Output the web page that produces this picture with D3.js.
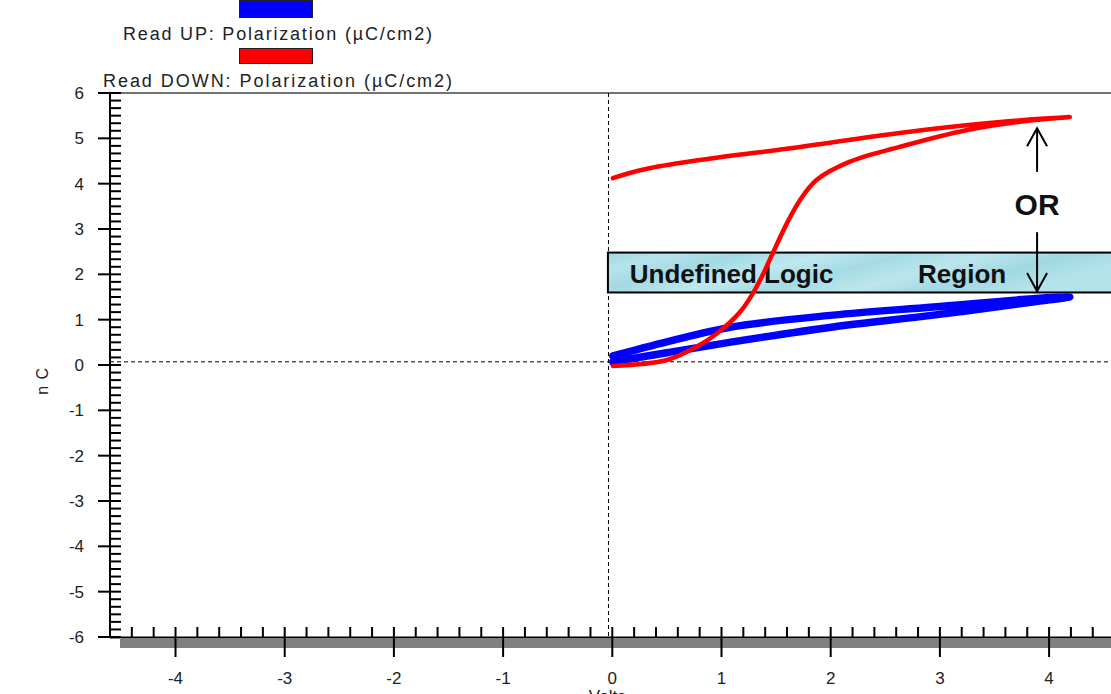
<!DOCTYPE html>
<html><head><meta charset="utf-8">
<script src="https://cdn.jsdelivr.net/npm/d3@7"></script>
<style>body{margin:0;background:#fff;} svg{display:block;font-family:Arial,"Liberation Sans",sans-serif;}</style>
</head><body><svg id="c" width="1111" height="694"></svg>
<script>
// ---------- data ----------
const seriesNames = ["Read UP: Polarization (\u00b5C/cm2)", "Read DOWN: Polarization (\u00b5C/cm2)"];
const seriesColors = ["#0000ff", "#ff0000"];

const upVolts = [0.005, 0.5, 1.1, 2.02, 2.94, 3.85, 4.19, 3.85, 2.94, 2.02, 1.1, 0.5, 0.005];
const upPol   = [0.07, 0.27, 0.51, 0.84, 1.10, 1.39, 1.50, 1.46, 1.28, 1.10, 0.84, 0.51, 0.20];

const downVolts = [0.005, 0.5, 0.8, 0.96, 1.17, 1.29, 1.38, 1.47, 1.6, 1.72, 1.87, 2.17, 2.63, 3.24, 3.85, 4.19, 3.55, 2.63, 1.72, 0.8, 0.34, 0.15, 0.005];
const downPol   = [-0.02, 0.11, 0.44, 0.70, 1.17, 1.59, 2.00, 2.47, 3.13, 3.64, 4.08, 4.48, 4.81, 5.18, 5.40, 5.47, 5.36, 5.12, 4.81, 4.52, 4.34, 4.23, 4.12];

const xTickValues = [-4, -3, -2, -1, 0, 1, 2, 3, 4];
const yTickValues = [-6, -5, -4, -3, -2, -1, 0, 1, 2, 3, 4, 5, 6];
const xDomain = [-4.6, 4.6];
const yDomain = [-6, 6];
const refLineVolt = -0.035;
const refLinePol = 0.07;
const regionBand = [1.6, 2.48];
const regionVolts = [-0.04, 4.6];
const regionLabels = ["Undefined Logic", "Region"];
const regionLabelVolts = [0.16, 2.8];
const orVolt = 3.89;
const orUpArrow = [4.26, 5.22];
const orDownArrow = [2.93, 1.63];
const orLabelPol = 3.55;
const xTitle = "Volts";
const yTitle = "n C";

// ---------- layout ----------
const svg = d3.select("#c");
const x = d3.scaleLinear().domain(xDomain).range([110, 1114.6]);
const y = d3.scaleLinear().domain(yDomain).range([637, 93]);

svg.append("rect").attr("width", 1111).attr("height", 694).attr("fill", "#fff");

const defs = svg.append("defs");
const grad = defs.append("linearGradient").attr("id", "band").attr("x1", "0").attr("x2", "1").attr("y1", "0").attr("y2", "0.3");
[["0", "#9fd6e1"], ["0.12", "#b7e4ec"], ["0.25", "#a2d9e3"], ["0.4", "#bfe8ef"], ["0.55", "#a5dbe5"], ["0.7", "#bce6ed"], ["0.85", "#a0d8e2"], ["1", "#b3e2ea"]]
  .forEach(([o, c]) => grad.append("stop").attr("offset", o).attr("stop-color", c));

// frame top line
svg.append("line").attr("x1", x(xDomain[0])).attr("x2", 1111).attr("y1", y(6)).attr("y2", y(6))
  .attr("stroke", "#444").attr("stroke-width", 1.5);

// gray shadow band under x axis
svg.append("rect").attr("x", x(xDomain[0]) + 10).attr("y", y(-6) + 2).attr("width", 1111 - x(xDomain[0]) - 10).attr("height", 9)
  .attr("fill", "#808080");

// dashed reference lines
svg.append("line").attr("x1", x(refLineVolt)).attr("x2", x(refLineVolt)).attr("y1", y(6)).attr("y2", y(-6))
  .attr("stroke", "#000").attr("stroke-width", 1).attr("stroke-dasharray", "4,3");
svg.append("line").attr("x1", x(xDomain[0])).attr("x2", 1111).attr("y1", y(refLinePol)).attr("y2", y(refLinePol))
  .attr("stroke", "#000").attr("stroke-width", 1).attr("stroke-dasharray", "4,3");

// y axis
svg.append("line").attr("x1", x(xDomain[0])).attr("x2", x(xDomain[0])).attr("y1", y(6)).attr("y2", y(-6))
  .attr("stroke", "#000").attr("stroke-width", 2);
const yMinor = d3.range(-36, 37).map(i => i / 6).filter(v => Math.abs(v - Math.round(v)) > 1e-6);
svg.append("g").selectAll("line").data(yMinor).join("line")
  .attr("x1", x(xDomain[0])).attr("x2", x(xDomain[0]) + 11).attr("y1", d => y(d)).attr("y2", d => y(d))
  .attr("stroke", "#000").attr("stroke-width", 2);
svg.append("g").selectAll("line").data(yTickValues).join("line")
  .attr("x1", x(xDomain[0]) - 12).attr("x2", x(xDomain[0]) + 11).attr("y1", d => y(d)).attr("y2", d => y(d))
  .attr("stroke", "#000").attr("stroke-width", 2);
svg.append("g").selectAll("text").data(yTickValues).join("text")
  .attr("x", 84).attr("y", d => y(d)).attr("dy", "0.36em").attr("text-anchor", "end")
  .attr("font-size", 17).attr("fill", "#222").text(d => d);

// x axis
svg.append("line").attr("x1", x(xDomain[0])).attr("x2", 1111).attr("y1", y(-6) + 0.5).attr("y2", y(-6) + 0.5)
  .attr("stroke", "#000").attr("stroke-width", 2);
const xMinor = d3.range(-23, 24).map(i => i / 5).filter(v => Math.abs(v - Math.round(v)) > 1e-6);
svg.append("g").selectAll("line").data(xMinor).join("line")
  .attr("x1", d => x(d)).attr("x2", d => x(d)).attr("y1", y(-6) - 10).attr("y2", y(-6) + 1)
  .attr("stroke", "#000").attr("stroke-width", 2);
svg.append("g").selectAll("line").data(xTickValues).join("line")
  .attr("x1", d => x(d)).attr("x2", d => x(d)).attr("y1", y(-6) - 10).attr("y2", y(-6) + 20)
  .attr("stroke", "#000").attr("stroke-width", 2);
svg.append("g").selectAll("text").data(xTickValues).join("text")
  .attr("x", d => x(d)).attr("y", 684).attr("text-anchor", "middle")
  .attr("font-size", 17).attr("fill", "#222").text(d => d);

// axis titles
svg.append("text").attr("x", x(0) - 5).attr("y", 702).attr("text-anchor", "middle")
  .attr("font-size", 17).attr("fill", "#222").text(xTitle);
svg.append("text").attr("transform", `translate(48,${y(-0.35)}) rotate(-90)`).attr("text-anchor", "middle")
  .attr("font-size", 16).attr("fill", "#222").attr("letter-spacing", 1).text(yTitle);

// undefined logic region
svg.append("rect").attr("x", x(regionVolts[0])).attr("y", y(regionBand[1]))
  .attr("width", x(regionVolts[1]) - x(regionVolts[0])).attr("height", y(regionBand[0]) - y(regionBand[1]))
  .attr("fill", "url(#band)").attr("stroke", "#000").attr("stroke-width", 2);
svg.append("g").selectAll("text").data(regionLabels).join("text")
  .attr("x", (d, i) => x(regionLabelVolts[i])).attr("y", y(regionBand[0]) - 9)
  .attr("font-size", 26).attr("font-weight", "bold").attr("fill", "#111").text(d => d);

// curves
const line = d3.line().x(d => x(d[0])).y(d => y(d[1])).curve(d3.curveCatmullRom.alpha(0.5));
const upPts = upVolts.map((v, i) => [v, upPol[i]]);
const downPts = downVolts.map((v, i) => [v, downPol[i]]);
svg.append("path").attr("d", line(upPts)).attr("fill", "none").attr("stroke", seriesColors[0])
  .attr("stroke-width", 7.5).attr("stroke-linejoin", "round").attr("stroke-linecap", "round");
svg.append("path").attr("d", line(downPts)).attr("fill", "none").attr("stroke", seriesColors[1])
  .attr("stroke-width", 4.5).attr("stroke-linejoin", "round").attr("stroke-linecap", "round");

// OR arrows
function arrow(p0, p1) {
  const g = svg.append("g").attr("stroke", "#000").attr("stroke-width", 2).attr("fill", "none");
  g.append("line").attr("x1", x(orVolt)).attr("x2", x(orVolt)).attr("y1", y(p0)).attr("y2", y(p1));
  const dir = y(p1) > y(p0) ? -1 : 1;
  g.append("path").attr("d", `M${x(orVolt) - 10},${y(p1) + dir * 18} L${x(orVolt)},${y(p1)} L${x(orVolt) + 10},${y(p1) + dir * 18}`);
}
arrow(orUpArrow[0], orUpArrow[1]);
arrow(orDownArrow[0], orDownArrow[1]);
svg.append("text").attr("x", x(orVolt)).attr("y", y(orLabelPol)).attr("dy", "0.36em").attr("text-anchor", "middle")
  .attr("font-size", 30).attr("font-weight", "bold").attr("fill", "#111").text("OR");

// legend
const legendRects = [[0, 18], [48, 64]];
const legendText = [[123, 40, 309], [103, 87, 349]];
seriesNames.forEach((n, i) => {
  svg.append("rect").attr("x", 239.5).attr("y", legendRects[i][0] + 0.5).attr("width", 73).attr("height", legendRects[i][1] - legendRects[i][0] - 1)
    .attr("fill", seriesColors[i]).attr("stroke", "#222").attr("stroke-width", 1);
  svg.append("text").attr("x", legendText[i][0]).attr("y", legendText[i][1]).attr("font-size", 18).attr("fill", "#222")
    .attr("textLength", legendText[i][2]).attr("lengthAdjust", "spacing").text(n);
});
</script></body></html>
